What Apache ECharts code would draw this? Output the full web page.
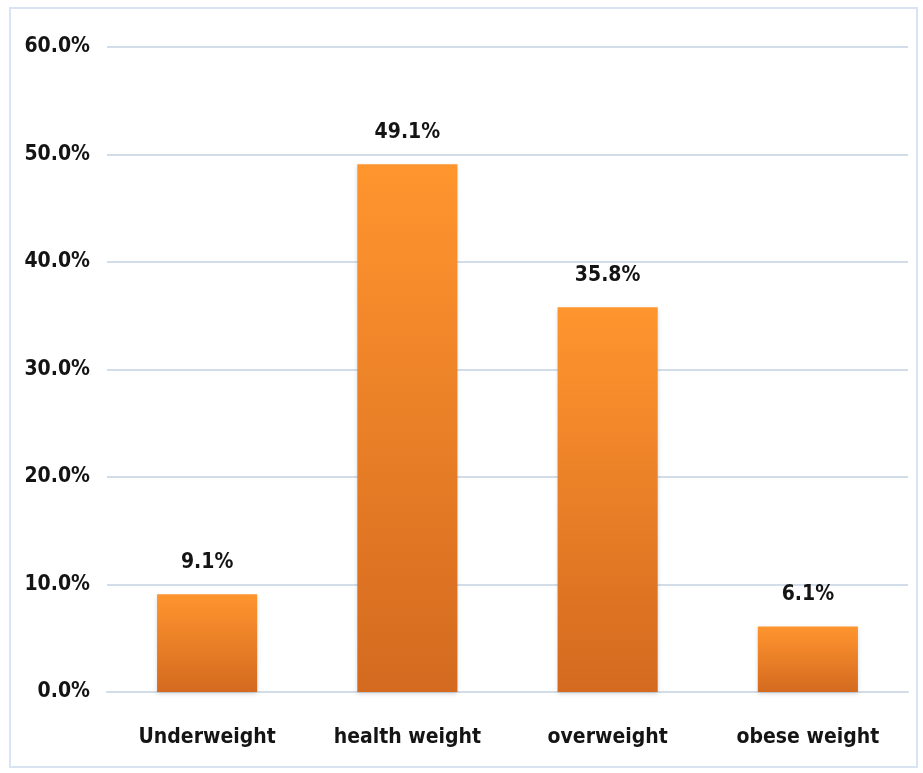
<!DOCTYPE html>
<html>
<head>
<meta charset="utf-8">
<script src="https://cdn.jsdelivr.net/npm/echarts@6/dist/echarts.min.js"></script>
<style>
  html, body { margin: 0; padding: 0; background: #fff; }
  #frame { position: absolute; left: 9px; top: 7px; width: 909px; height: 761px;
           border: 2px solid #d9e4f2; box-sizing: border-box; }
  #chart { position: absolute; left: 0; top: 0; width: 923px; height: 773px; }
</style>
</head>
<body>
<div id="frame"></div>
<div id="chart"></div>
<script>
// BMI categories and their share of respondents (%)
const categories = ['Underweight', 'health weight', 'overweight', 'obese weight'];
const shares = [9.1, 49.1, 35.8, 6.1];
const yTicks = [0, 10, 20, 30, 40, 50, 60];

const FONT = "'Liberation Sans Narrow', 'DejaVu Sans Condensed', sans-serif";

const chart = echarts.init(document.getElementById('chart'), null, { renderer: 'canvas' });
chart.setOption({
  animation: false,
  grid: { left: 107, right: 15, top: 47, bottom: 81, containLabel: false },
  xAxis: {
    type: 'category',
    data: categories,
    axisLine: { show: true, lineStyle: { color: '#d3dde9', width: 2 } },
    axisTick: { show: false },
    axisLabel: { margin: 35, color: '#141414', fontSize: 21, fontWeight: 'bold', fontFamily: FONT }
  },
  yAxis: {
    type: 'value',
    min: yTicks[0],
    max: yTicks[yTicks.length - 1],
    interval: 10,
    axisLine: { show: false },
    axisTick: { show: false },
    splitLine: { lineStyle: { color: '#d3dde9', width: 2 } },
    axisLabel: {
      margin: 17, color: '#141414', fontSize: 21, fontWeight: 'bold', fontFamily: FONT,
      formatter: v => v.toFixed(1) + '%'
    }
  },
  series: [{
    type: 'bar',
    data: shares,
    barWidth: '50%',
    itemStyle: {
      color: new echarts.graphic.LinearGradient(0, 0, 0, 1, [
        { offset: 0, color: '#ff952e' },
        { offset: 1, color: '#d46a1f' }
      ]),
      shadowColor: 'rgba(0,0,0,0.15)',
      shadowBlur: 4,
      shadowOffsetY: 2
    },
    label: {
      show: true, position: 'top', distance: 21,
      color: '#141414', fontSize: 21, fontWeight: 'bold', fontFamily: FONT,
      formatter: p => p.value.toFixed(1) + '%'
    }
  }]
});
</script>
</body>
</html>
